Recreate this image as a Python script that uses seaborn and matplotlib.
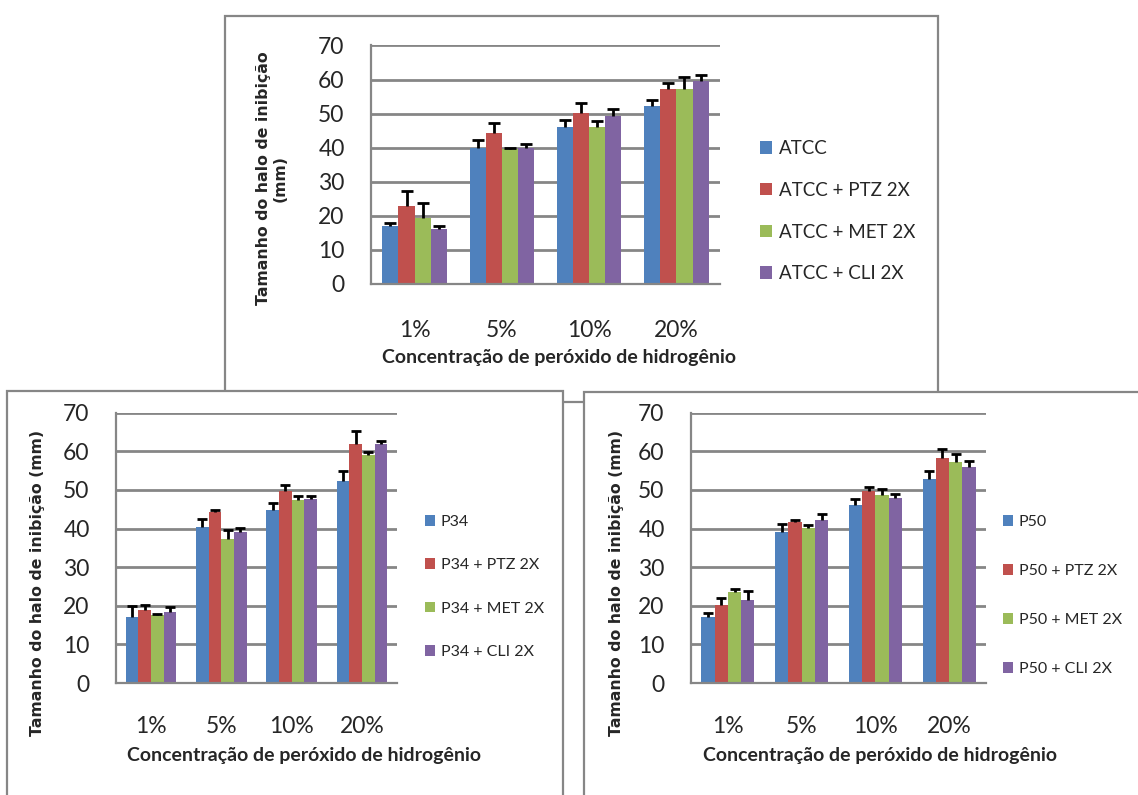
import matplotlib
matplotlib.use("Agg")
import numpy as np
import pandas as pd
import seaborn as sns
from matplotlib import pyplot as plt
from matplotlib.patches import Rectangle, Patch

concentracoes = ["1%", "5%", "10%", "20%"]
cores = ["#4F81BD", "#C0504D", "#9BBB59", "#8064A2"]

atcc_series = ["ATCC", "ATCC + PTZ 2X", "ATCC + MET 2X", "ATCC + CLI 2X"]
atcc_halo = [[17.0, 39.8, 46.1, 52.1],
             [22.8, 44.3, 50.3, 57.1],
             [19.4, 39.7, 46.1, 57.1],
             [16.2, 39.8, 49.2, 59.5]]
atcc_erro = [[1.0, 2.6, 2.0, 2.0],
             [4.6, 3.0, 2.7, 1.8],
             [4.3, 0.2, 1.7, 3.8],
             [0.9, 1.4, 2.2, 1.7]]

p34_series = ["P34", "P34 + PTZ 2X", "P34 + MET 2X", "P34 + CLI 2X"]
p34_halo = [[17.2, 40.4, 44.9, 52.2],
            [19.0, 44.3, 49.7, 62.0],
            [17.5, 37.2, 47.4, 59.1],
            [18.4, 39.0, 47.7, 61.9]]
p34_erro = [[2.7, 2.2, 1.6, 2.6],
            [1.1, 0.6, 1.6, 3.2],
            [0.3, 2.4, 1.0, 0.6],
            [1.3, 1.1, 0.8, 0.9]]

p50_series = ["P50", "P50 + PTZ 2X", "P50 + MET 2X", "P50 + CLI 2X"]
p50_halo = [[17.1, 39.2, 46.1, 52.8],
            [20.3, 41.7, 49.8, 58.3],
            [23.6, 40.2, 48.8, 57.3],
            [21.6, 42.1, 48.0, 56.0]]
p50_erro = [[0.95, 2.1, 1.6, 2.1],
            [1.8, 0.6, 0.9, 2.2],
            [0.8, 0.7, 1.4, 2.1],
            [2.2, 1.6, 0.9, 1.4]]

W, H = 1138, 795
cinza = "#868686"

sns.set_style("white")
plt.rcParams["font.family"] = ["Lato", "DejaVu Sans"]

fig = plt.figure(figsize=(W / 100, H / 100), dpi=100)


def px(x0, y0, x1, y1):
    # pixel box (top-left origin) -> figure fraction [left, bottom, width, height]
    return [x0 / W, 1 - y1 / H, (x1 - x0) / W, (y1 - y0) / H]


def moldura(x0, y0, x1, y1, z):
    l, b, w, h = px(x0, y0, x1, y1)
    fig.patches.append(Rectangle((l, b), w, h, transform=fig.transFigure,
                                 facecolor="white", edgecolor=cinza,
                                 linewidth=1.6, zorder=z))


def painel(rect, series, halo, erro, larg, cap, tick_pad, leg_anchor, leg_font, leg_space):
    ax = fig.add_axes(rect, zorder=5)
    df = pd.DataFrame({
        "conc": [c for s in series for c in concentracoes],
        "serie": [s for s in series for c in concentracoes],
        "halo": [v for linha in halo for v in linha],
    })
    sns.barplot(data=df, x="conc", y="halo", hue="serie", order=concentracoes,
                hue_order=series, palette=cores, saturation=1, width=larg,
                errorbar=None, linewidth=0, legend=False, ax=ax)
    barras = list(ax.containers)
    for i, cont in enumerate(barras):
        for bar in cont:
            xc = bar.get_x() + bar.get_width() / 2
            j = int(round(xc))
            eb = ax.errorbar(xc, bar.get_height(), yerr=[[0], [erro[i][j]]], fmt="none",
                             ecolor="black", elinewidth=2, capsize=cap, capthick=2, zorder=4)
            # only the upper cap, like the original spreadsheet chart
            eb.lines[1][0].set_visible(False)
    ax.set_xlim(-0.5, 3.5)
    ax.set_ylim(0, 70)
    ax.set_yticks(range(0, 80, 10))
    ax.set_xticks(range(4))
    ax.set_xticklabels(concentracoes)
    ax.set_xticks(np.arange(-0.5, 4, 1), minor=True)
    ax.tick_params(axis="x", which="major", length=0, pad=tick_pad, labelsize=16.5)
    ax.tick_params(axis="x", which="minor", length=8, width=1.6, color=cinza)
    ax.tick_params(axis="y", length=8, width=1.6, color=cinza, pad=11, labelsize=16.5)
    ax.grid(axis="y", color=cinza, linewidth=2)
    ax.set_axisbelow(True)
    for lado in ["top", "right"]:
        ax.spines[lado].set_visible(False)
    for lado in ["left", "bottom"]:
        ax.spines[lado].set_color(cinza)
        ax.spines[lado].set_linewidth(1.6)
    ax.set_xlabel("")
    ax.set_ylabel("")
    handles = [Patch(facecolor=c, edgecolor="none") for c in cores]
    fig.legend(handles, series, loc="upper left", bbox_to_anchor=leg_anchor,
               bbox_transform=fig.transFigure, frameon=False, fontsize=leg_font,
               handlelength=0.65, handleheight=0.65, handletextpad=0.35,
               labelspacing=leg_space, borderpad=0, borderaxespad=0)
    return ax


# molduras
moldura(225, 16, 938, 402, 1)
moldura(7, 391, 563, 810, 2)
moldura(584, 392, 1150, 810, 2)

# painel superior (ATCC)
painel(px(371, 45.5, 720, 284), atcc_series, atcc_halo, atcc_erro, 0.74, 4.5, 26,
       (760 / W, 1 - 140 / H), 13.5, 1.32)
fig.text(272 / W, 1 - 178 / H, "Tamanho do halo de inibição\n(mm)", rotation=90,
         ha="center", va="center", fontsize=11.3, fontweight="bold",
         family="DejaVu Sans", linespacing=1.15, zorder=6)
fig.text(559 / W, 1 - 358 / H, "Concentração de peróxido de hidrogênio",
         ha="center", va="center", fontsize=14, fontweight="bold", zorder=6)

# painel inferior esquerdo (P34)
painel(px(116, 412.7, 397, 683), p34_series, p34_halo, p34_erro, 0.72, 3.5, 24,
       (425 / W, 1 - 515 / H), 11.5, 1.84)
fig.text(38 / W, 1 - 583 / H, "Tamanho do halo de inibição (mm)", rotation=90,
         ha="center", va="center", fontsize=11.3, fontweight="bold",
         family="DejaVu Sans", zorder=6)
fig.text(304 / W, 1 - 755 / H, "Concentração de peróxido de hidrogênio",
         ha="center", va="center", fontsize=14, fontweight="bold", zorder=6)

# painel inferior direito (P50)
painel(px(691, 412.7, 986, 683), p50_series, p50_halo, p50_erro, 0.72, 3.5, 24,
       (1003 / W, 1 - 515 / H), 11.5, 2.2)
fig.text(617 / W, 1 - 583 / H, "Tamanho do halo de inibição (mm)", rotation=90,
         ha="center", va="center", fontsize=11.3, fontweight="bold",
         family="DejaVu Sans", zorder=6)
fig.text(880 / W, 1 - 755 / H, "Concentração de peróxido de hidrogênio",
         ha="center", va="center", fontsize=14, fontweight="bold", zorder=6)

fig.savefig("out.png", dpi=100)
